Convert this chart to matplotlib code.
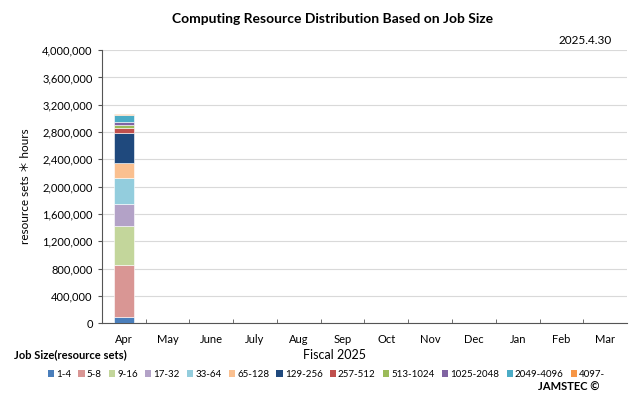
import numpy as np
import matplotlib
matplotlib.use("Agg")
import matplotlib.pyplot as plt
from matplotlib.patches import Patch

plt.rcParams["font.family"] = ["Lato", "Noto Sans CJK JP", "DejaVu Sans"]

months = ["Apr", "May", "June", "July", "Aug", "Sep", "Oct", "Nov", "Dec", "Jan", "Feb", "Mar"]
job_sizes = ["1-4", "5-8", "9-16", "17-32", "33-64", "65-128", "129-256", "257-512",
             "513-1024", "1025-2048", "2049-4096", "4097-"]
# resource sets * hours, only April has data so far
apr_values = [85000, 765000, 570000, 320000, 380000, 220000, 450000, 70000,
              50000, 30000, 115000, 15000]
colors = ["#4A7EBB", "#D99694", "#C3D69B", "#B3A2C7", "#93CDDD", "#FAC090",
          "#1F497D", "#C0504D", "#9BBB59", "#8064A2", "#4BACC6", "#F79646"]

# one row per job size, one column per month (NaN = no data yet)
data = np.full((len(job_sizes), len(months)), np.nan)
data[:, 0] = apr_values

fig = plt.figure(figsize=(6.4, 3.95), dpi=100)
ax = fig.add_axes([0.159, 0.182, 0.821, 0.691])

x = np.arange(len(months))
bottom = np.zeros(len(months))
for i, lbl in enumerate(job_sizes):
    vals = np.nan_to_num(data[i])
    ax.bar(x, vals, 0.46, bottom=bottom, color=colors[i], edgecolor="white",
           linewidth=0.4, label=lbl, zorder=3)
    bottom += vals

ax.set_xlim(-0.5, len(months) - 0.5)
ax.set_ylim(0, 4000000)
ax.set_yticks(np.arange(0, 4000001, 400000))
ax.set_yticklabels([f"{v:,}" for v in range(0, 4000001, 400000)], fontsize=8)
ax.set_xticks(x)
ax.set_xticklabels(months, fontsize=8)
ax.set_xticks(np.arange(0.5, len(months) - 0.5, 1), minor=True)
ax.tick_params(axis="x", which="major", length=0, pad=8)
ax.tick_params(axis="x", which="minor", length=3, direction="in", color="#555555")
ax.tick_params(axis="y", length=3, color="#555555")
ax.grid(axis="y", color="#D9D9D9", linewidth=0.8, zorder=0)
for s in ["top", "right"]:
    ax.spines[s].set_visible(False)
for s in ["left", "bottom"]:
    ax.spines[s].set_color("#555555")
    ax.spines[s].set_linewidth(0.8)

ax.set_ylabel("resource sets ＊ hours", fontsize=8.5, labelpad=8)

fig.text(0.52, 0.952, "Computing Resource Distribution Based on Job Size",
         ha="center", va="center", fontsize=10, fontweight="bold")
fig.text(0.915, 0.898, "2025.4.30", ha="center", va="center", fontsize=8.5)
fig.text(0.523, 0.102, "Fiscal 2025", ha="center", va="center", fontsize=9)
fig.text(0.022, 0.102, "Job Size(resource sets)", ha="left", va="center",
         fontsize=8, fontweight="bold")
fig.text(0.936, 0.02, "JAMSTEC ©", ha="right", va="center", fontsize=8, fontweight="bold")

handles = [Patch(facecolor=c, edgecolor="none") for c in colors]
fig.legend(handles, job_sizes, loc="center", bbox_to_anchor=(0.51, 0.052), ncol=12,
           frameon=False, fontsize=7, handlelength=0.65, handleheight=0.65,
           handletextpad=0.2, columnspacing=0.75, borderaxespad=0, borderpad=0)

fig.savefig("out.png", dpi=100)
